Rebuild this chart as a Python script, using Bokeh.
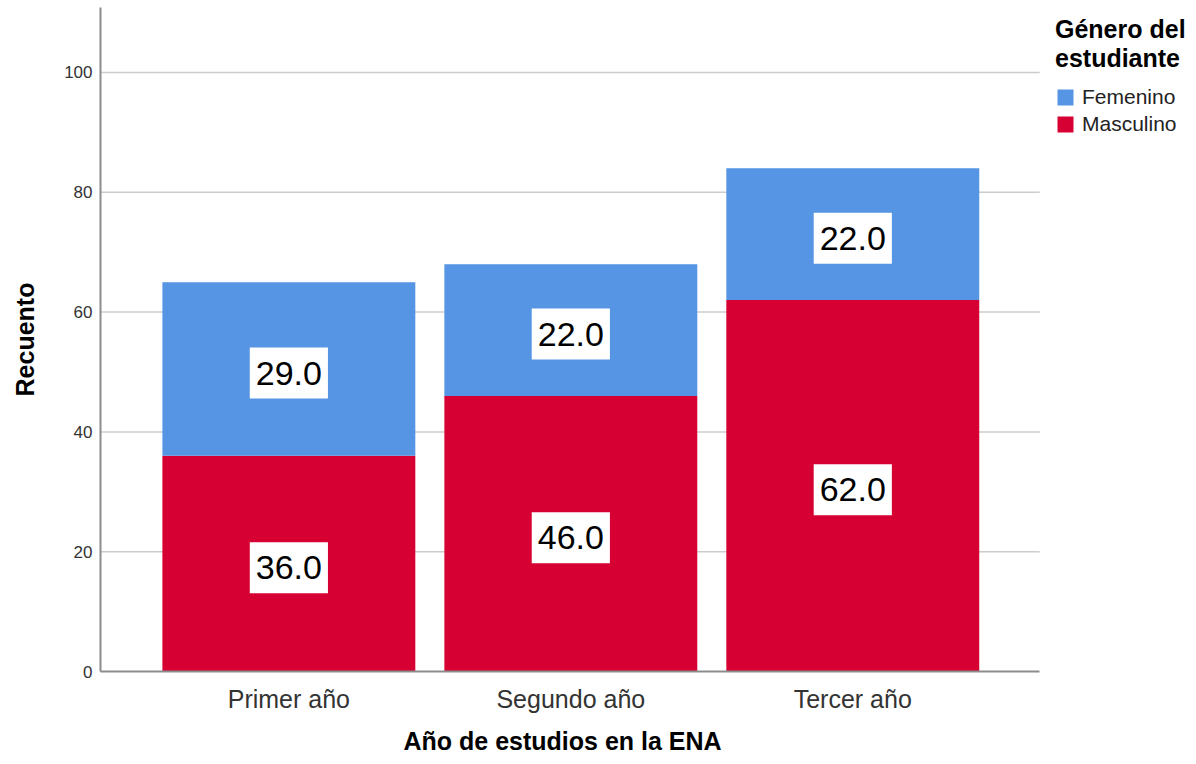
from bokeh.plotting import figure
from bokeh.models import ColumnDataSource, Legend, LegendItem, FixedTicker, Range1d, Title
from bokeh.embed import file_html
from bokeh.resources import INLINE
from bokeh.core.properties import value

categories = ["Primer año", "Segundo año", "Tercer año"]
masculino = [36, 46, 62]
femenino = [29, 22, 22]
y_ticks = [0, 20, 40, 60, 80, 100]
series_names = ["Femenino", "Masculino"]
colors = {"Femenino": "#5595E3", "Masculino": "#D60032"}

FONT = "Liberation Sans"
xpos = list(range(1, len(categories) + 1))
totals = [m + f for m, f in zip(masculino, femenino)]
X_MIN, X_MAX, X_FRAME_END = 0.332, 3.663, 4.219

p = figure(width=1196, height=764, output_backend="svg", toolbar_location=None,
           x_range=Range1d(X_MIN, X_FRAME_END), y_range=Range1d(0, 110.85),
           min_border_left=100, min_border_right=0, min_border_top=7,
           min_border_bottom=93)
p.outline_line_color = None
p.background_fill_color = "white"

# horizontal gridlines limited to the plotting area (the frame also hosts the legend)
grid_y = [t for t in y_ticks if t > 0]
p.segment(x0=[X_MIN] * len(grid_y), x1=[X_MAX] * len(grid_y), y0=grid_y, y1=grid_y,
          line_color="#cccccc", line_width=1.5)

src = ColumnDataSource(dict(x=xpos, m=masculino, t=totals))
r_masc = p.vbar(x="x", width=0.897, bottom=0, top="m", source=src,
                fill_color=colors["Masculino"], line_color=None)
r_fem = p.vbar(x="x", width=0.897, bottom="m", top="t", source=src,
               fill_color=colors["Femenino"], line_color=None)

lx = xpos + xpos
ly = [m / 2 for m in masculino] + [m + f / 2 for m, f in zip(masculino, femenino)]
lt = [f"{v:.1f}" for v in masculino] + [f"{v:.1f}" for v in femenino]
lsrc = ColumnDataSource(dict(x=lx, y=ly, text=lt))
p.text(x="x", y="y", text="text", source=lsrc, text_align="center",
       text_baseline="middle", text_font=value(FONT), text_font_size="34px",
       text_color="black", background_fill_color="white",
       padding=dict(left=6, right=6, top=14, bottom=14), y_offset=4)

# axes
p.xgrid.grid_line_color = None
p.ygrid.grid_line_color = None
p.yaxis.ticker = FixedTicker(ticks=y_ticks)
p.xaxis.ticker = FixedTicker(ticks=xpos)
p.xaxis.major_label_overrides = {i: c for i, c in zip(xpos, categories)}
p.xaxis.bounds = (X_MIN, X_MAX)
for ax in (p.xaxis, p.yaxis):
    ax.axis_line_color = "#8c8c8c"
    ax.axis_line_width = 2
    ax.major_tick_line_color = None
    ax.minor_tick_line_color = None
    ax.major_tick_out = 0
    ax.major_tick_in = 0
    ax.major_label_text_font = FONT
    ax.axis_label_text_font = FONT
    ax.axis_label_text_font_style = "bold"
    ax.axis_label_text_color = "black"
    ax.axis_label_text_font_size = "25px"
p.yaxis.major_label_text_font_size = "17px"
p.yaxis.major_label_text_color = "#333333"
p.yaxis.major_label_standoff = 8
p.yaxis.axis_label = "Recuento"
p.yaxis.axis_label_standoff = 22
p.xaxis.major_label_text_font_size = "25px"
p.xaxis.major_label_text_color = "#333333"
p.xaxis.major_label_standoff = 13

# x-axis title, centred on the plotting area rather than on the whole frame
xtitle = Title(text="Año de estudios en la ENA", align="left", offset=303,
               text_font=FONT, text_font_size="25px", text_font_style="bold",
               text_color="black", standoff=19)
p.add_layout(xtitle, "below")

legend = Legend(
    items=[LegendItem(label="Femenino", renderers=[r_fem]),
           LegendItem(label="Masculino", renderers=[r_masc])],
    title="Género del\nestudiante", location=(955, 535),
    title_text_font=FONT, title_text_font_style="bold", title_text_font_size="25px",
    title_text_color="black", title_standoff=12, title_text_line_height=1.05,
    label_text_font=FONT, label_text_font_size="21px", label_text_color="#222222",
    glyph_width=20, glyph_height=20, label_height=20, label_standoff=7, spacing=3,
    border_line_color=None, background_fill_alpha=0, padding=5)
p.add_layout(legend)

open("out.html", "w").write(file_html(p, INLINE))
